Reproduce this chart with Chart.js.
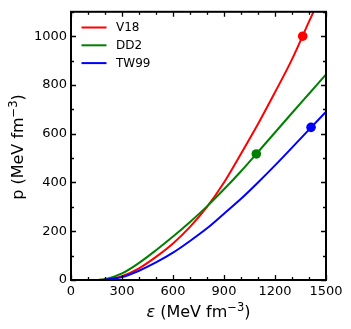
<!DOCTYPE html>
<html><head><meta charset="utf-8">
<script src="https://cdn.jsdelivr.net/npm/chart.js@4.4.0/dist/chart.umd.min.js"></script>
<style>html,body{margin:0;padding:0;background:#fff;} #wrap{width:351px;height:329px;}</style>
</head><body><div id="wrap"><canvas id="c" width="351" height="329"></canvas></div>
<script>
const seriesNames = ['V18', 'DD2', 'TW99'];
const seriesColors = ['#ff0000', '#008000', '#0000ff'];

const v18Eps = [160, 200, 300, 400, 500, 600, 700, 800, 900, 1000, 1100, 1200, 1300, 1400, 1450];
const v18P   = [0, 2, 16, 48, 95, 150, 218, 300, 400, 518, 640, 770, 905, 1060, 1135];

const dd2Eps = [160, 200, 300, 400, 500, 600, 700, 800, 900, 1000, 1100, 1200, 1300, 1400, 1500];
const dd2P   = [0, 3, 27, 70, 122, 178, 238, 302, 372, 446, 525, 605, 685, 764, 843];

const tw99Eps = [180, 200, 300, 400, 500, 600, 700, 800, 900, 1000, 1100, 1200, 1300, 1400, 1500];
const tw99P   = [0, 1, 12, 38, 72, 112, 160, 212, 272, 333, 400, 470, 543, 617, 690];

const markerEps = [1363, 1090, 1412];
const markerP   = [1000, 517, 626];

const xMin = 0, xMax = 1500, xStep = 300, xMinorStep = 100;
const yMin = 0, yMax = 1100, yStep = 200, yMinorStep = 100;

const FONT = 'DejaVu Sans';
Chart.defaults.font.family = FONT;
Chart.defaults.color = '#000';

const toPts = (xs, ys) => xs.map((x, i) => ({x: x, y: ys[i]}));
const curves = [toPts(v18Eps, v18P), toPts(dd2Eps, dd2P), toPts(tw99Eps, tw99P)];

const datasets = [];
markerEps.forEach((e, i) => {
  datasets.push({
    label: seriesNames[i] + ' marker',
    data: [{x: e, y: markerP[i]}],
    showLine: false,
    pointRadius: 4.8,
    pointBackgroundColor: seriesColors[i],
    pointBorderColor: seriesColors[i],
    pointBorderWidth: 0,
    order: 0
  });
});
curves.forEach((pts, i) => {
  datasets.push({
    label: seriesNames[i],
    data: pts,
    borderColor: seriesColors[i],
    borderWidth: 2,
    pointRadius: 0,
    fill: false,
    cubicInterpolationMode: 'monotone',
    clip: 0,
    order: 3 - i
  });
});

const framePlugin = {
  id: 'frame',
  afterDatasetsDraw(chart) {
    const {ctx, chartArea: a, scales: {x, y}} = chart;
    ctx.save();
    ctx.strokeStyle = '#000';
    ctx.lineWidth = 1.3;
    ctx.beginPath();
    for (let v = xMin; v <= xMax; v += xMinorStep) {
      const major = v % xStep === 0;
      const len = major ? 5 : 3;
      const px = Math.round(x.getPixelForValue(v)) + 0.5;
      ctx.moveTo(px, a.bottom); ctx.lineTo(px, a.bottom - len);
      ctx.moveTo(px, a.top); ctx.lineTo(px, a.top + len);
    }
    for (let v = yMin; v <= yMax; v += yMinorStep) {
      const major = v % yStep === 0;
      const len = major ? 5 : 3;
      const py = Math.round(y.getPixelForValue(v)) + 0.5;
      ctx.moveTo(a.left, py); ctx.lineTo(a.left + len, py);
      ctx.moveTo(a.right, py); ctx.lineTo(a.right - len, py);
    }
    ctx.stroke();
    ctx.lineWidth = 2;
    ctx.strokeRect(a.left, a.top, a.right - a.left, a.bottom - a.top);
    ctx.restore();
  }
};

const legendPlugin = {
  id: 'innerLegend',
  afterDraw(chart) {
    const {ctx, chartArea: a} = chart;
    ctx.save();
    ctx.font = '12px ' + FONT;
    ctx.textBaseline = 'middle';
    ctx.textAlign = 'left';
    seriesNames.forEach((name, i) => {
      const yy = a.top + 15.7 + i * 17.8;
      ctx.strokeStyle = seriesColors[i];
      ctx.lineWidth = 2;
      ctx.beginPath();
      ctx.moveTo(a.left + 10.5, yy); ctx.lineTo(a.left + 35.5, yy);
      ctx.stroke();
      ctx.fillStyle = '#000';
      ctx.fillText(name, a.left + 45, yy + 0.5);
    });
    ctx.restore();
  }
};

function drawParts(ctx, parts, x0) {
  let x = x0;
  parts.forEach(p => {
    ctx.font = p.font;
    ctx.fillText(p.t, x, -(p.dy || 0));
    x += ctx.measureText(p.t).width;
  });
}
function partsWidth(ctx, parts) {
  let w = 0;
  parts.forEach(p => { ctx.font = p.font; w += ctx.measureText(p.t).width; });
  return w;
}

const titlePlugin = {
  id: 'axisTitles',
  afterDraw(chart) {
    const {ctx, chartArea: a} = chart;
    ctx.save();
    ctx.fillStyle = '#000';
    ctx.textBaseline = 'alphabetic';
    ctx.textAlign = 'left';
    const N = '16px ' + FONT, S = '11.5px ' + FONT;
    const xParts = [
      {t: 'ε', font: 'italic ' + N},
      {t: ' (MeV fm', font: N},
      {t: '−3', font: S, dy: 6.5},
      {t: ')', font: N}
    ];
    const cx = (a.left + a.right) / 2;
    const wx = partsWidth(ctx, xParts);
    ctx.save();
    ctx.translate(0, 317);
    drawParts(ctx, xParts, cx - wx / 2);
    ctx.restore();

    const yParts = [
      {t: 'p (MeV fm', font: N},
      {t: '−3', font: S, dy: 6.5},
      {t: ')', font: N}
    ];
    const wy = partsWidth(ctx, yParts);
    ctx.save();
    ctx.translate(23, 147);
    ctx.rotate(-Math.PI / 2);
    drawParts(ctx, yParts, -wy / 2);
    ctx.restore();
    ctx.restore();
  }
};

const plainLabel = v => String(v);

new Chart(document.getElementById('c'), {
  type: 'line',
  data: {datasets: datasets},
  options: {
    responsive: false,
    animation: false,
    devicePixelRatio: 1,
    layout: {padding: {top: 7, right: 25, left: 0, bottom: 0}},
    plugins: {legend: {display: false}, tooltip: {enabled: false}},
    scales: {
      x: {
        type: 'linear', min: xMin, max: xMax,
        ticks: {stepSize: xStep, includeBounds: false, font: {size: 13}, color: '#000', padding: 4, maxRotation: 0, callback: plainLabel},
        grid: {display: false, drawTicks: false},
        border: {display: false},
        afterFit(s) { s.height = 49; }
      },
      y: {
        type: 'linear', min: yMin, max: yMax,
        ticks: {stepSize: yStep, includeBounds: false, font: {size: 13}, color: '#000', padding: 4, callback: plainLabel},
        grid: {display: false, drawTicks: false},
        border: {display: false},
        afterFit(s) { s.width = 71; }
      }
    }
  },
  plugins: [framePlugin, legendPlugin, titlePlugin]
});
</script>
</body></html>
